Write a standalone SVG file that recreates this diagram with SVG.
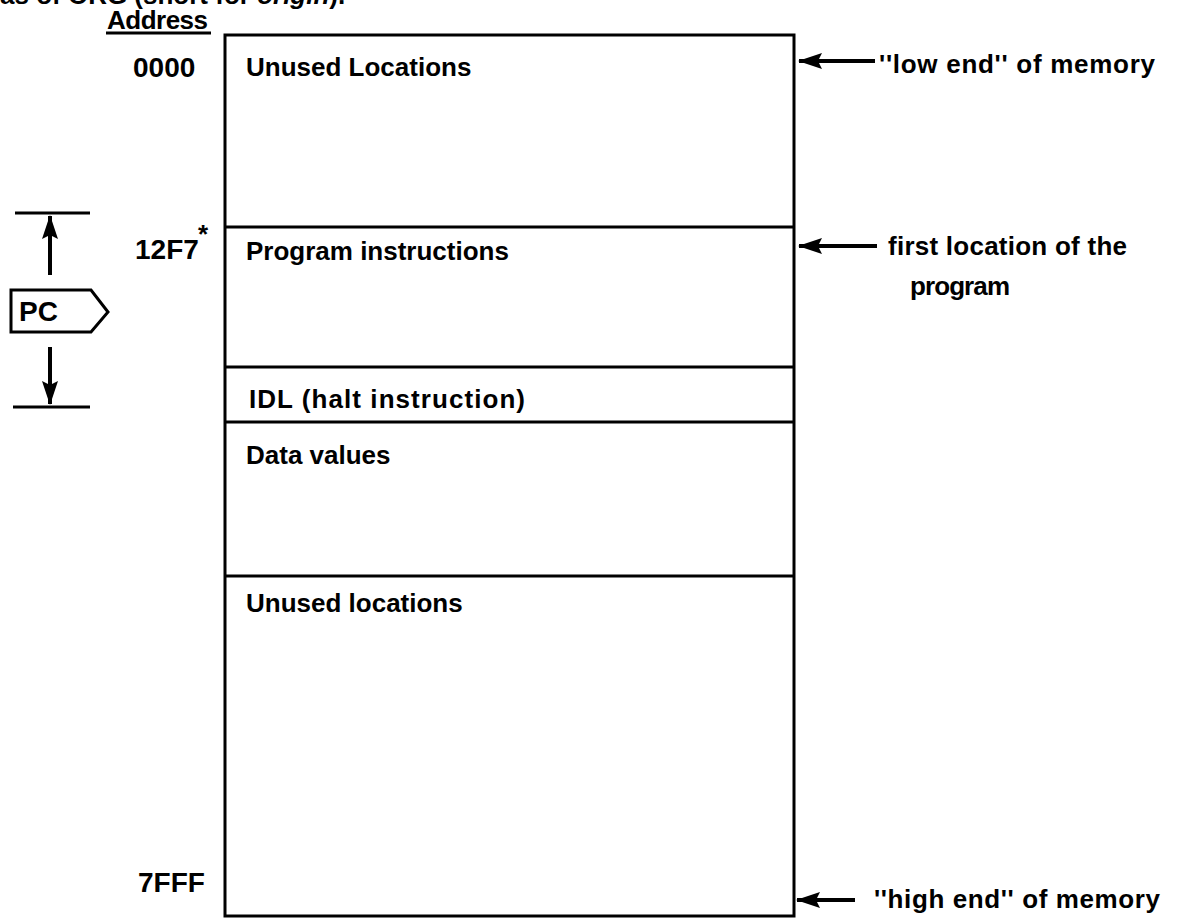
<svg xmlns="http://www.w3.org/2000/svg" width="1180" height="918" viewBox="0 0 1180 918">
<style>
.t{font-family:"Liberation Sans",Arial,sans-serif;font-weight:bold;font-size:26px;fill:#000}
.n{font-size:28px}
.ln{stroke:#000;stroke-width:3;fill:none}
.ar{stroke:#000;stroke-width:4;fill:none}
.box{stroke:#000;stroke-width:3;fill:#fff}
</style>
<defs>
<marker id="ah" viewBox="0 0 24 16" refX="23" refY="8" markerWidth="24" markerHeight="16" orient="auto" markerUnits="userSpaceOnUse">
<path d="M0,0 L24,8 L0,16 L4,8 Z" fill="#000"/>
</marker>
</defs>
<rect width="1180" height="918" fill="#fff"/>
<text class="t" x="0" y="4">as of ORG (short for <tspan font-style="italic">origin</tspan>).</text>
<g id="address-header">
<text class="t" x="107" y="29" textLength="101">Address</text>
<line x1="106" y1="33" x2="211" y2="33" class="ln"/>
</g>
<g id="memory">
<rect class="box" x="225" y="35" width="569" height="881"/>
<line class="ln" x1="225" y1="227" x2="794" y2="227"/>
<line class="ln" x1="225" y1="367" x2="794" y2="367"/>
<line class="ln" x1="225" y1="422" x2="794" y2="422"/>
<line class="ln" x1="225" y1="576" x2="794" y2="576"/>
</g>
<g id="seg-unused1"><text class="t" x="246" y="76">Unused Locations</text></g>
<g id="seg-program"><text class="t" x="246" y="260">Program instructions</text></g>
<g id="seg-idl"><text class="t" x="249" y="408" textLength="276">IDL (halt instruction)</text></g>
<g id="seg-data"><text class="t" x="246" y="464">Data values</text></g>
<g id="seg-unused2"><text class="t" x="246" y="612">Unused locations</text></g>
<g id="addr-0000"><text class="t n" x="133" y="77">0000</text></g>
<g id="addr-12F7"><text class="t n" x="135" y="259">12F7</text><text class="t" x="198" y="243" font-size="16">*</text></g>
<g id="addr-7FFF"><text class="t n" x="138" y="892">7FFF</text></g>
<g id="pc">
<line class="ln" x1="15" y1="213" x2="90" y2="213"/>
<line class="ln" x1="13" y1="407" x2="90" y2="407"/>
<path class="box" d="M11,290 H91 L108,312 L91,332 H11 Z"/>
<text class="t n" x="19" y="321">PC</text>
</g>
<g id="connectors">
<line class="ar" x1="50" y1="275" x2="50" y2="216" marker-end="url(#ah)"/>
<line class="ar" x1="50" y1="347" x2="50" y2="404" marker-end="url(#ah)"/>
<line class="ar" x1="875" y1="61" x2="799" y2="61" marker-end="url(#ah)"/>
<line class="ar" x1="877" y1="246" x2="799" y2="246" marker-end="url(#ah)"/>
<line class="ar" x1="855" y1="900" x2="797" y2="900" marker-end="url(#ah)"/>
</g>
<g id="label-low"><text class="t" x="879" y="73" textLength="276">''low end'' of memory</text></g>
<g id="label-first"><text class="t" x="888" y="255" textLength="239">first location of the</text><text class="t" x="910" y="295" textLength="100">program</text></g>
<g id="label-high"><text class="t" x="874" y="908" textLength="286">''high end'' of memory</text></g>
</svg>
